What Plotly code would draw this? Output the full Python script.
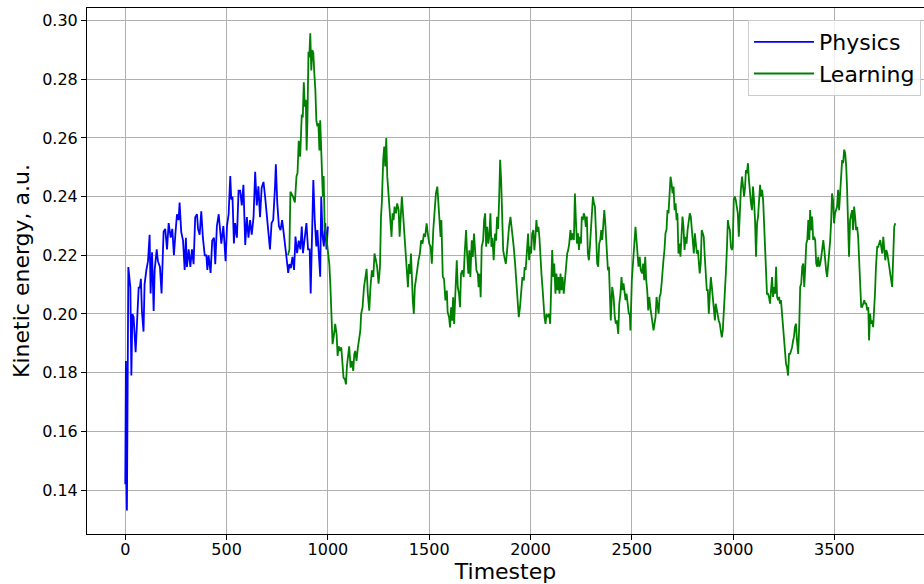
import plotly.graph_objects as go

# ---------------- data ----------------
physics_t = [0, 3, 5, 8, 15, 25, 30, 35, 41, 51,
             66, 72, 77, 82, 90, 95, 104, 112, 120, 125,
             132, 140, 145, 155, 161, 171, 179, 189, 197, 206,
             214, 224, 232, 240, 247, 255, 263, 268, 276, 285,
             293, 299, 304, 313, 321, 329, 337, 345, 354, 359,
             367, 375, 383, 392, 400, 405, 411, 421, 429, 438,
             444, 452, 461, 467, 474, 484, 490, 495, 502, 510,
             518, 523, 529, 536, 542, 551, 559, 567, 575, 583,
             592, 600, 608, 616, 624, 633, 641, 649, 657, 665,
             673, 682, 690, 698, 706, 714, 722, 730, 739, 743,
             750, 758, 766, 774, 782, 791, 797, 804, 810, 817,
             825, 833, 840, 848, 856, 864, 871, 877, 886, 894,
             902, 910, 915, 922, 928, 935, 943, 948, 954, 962,
             967, 974, 980, 987, 993, 1000]
physics_v = [0.142, 0.184, 0.145, 0.133, 0.216, 0.209, 0.179, 0.200, 0.199, 0.187,
             0.209, 0.209, 0.212, 0.201, 0.194, 0.210, 0.215, 0.218, 0.227, 0.207,
             0.221, 0.201, 0.215, 0.222, 0.218, 0.216, 0.207, 0.228, 0.229, 0.222,
             0.231, 0.226, 0.229, 0.220, 0.227, 0.234, 0.232, 0.238, 0.228, 0.225,
             0.215, 0.226, 0.216, 0.222, 0.216, 0.222, 0.217, 0.233, 0.234, 0.229,
             0.227, 0.235, 0.226, 0.220, 0.220, 0.215, 0.220, 0.214, 0.225, 0.226,
             0.217, 0.230, 0.234, 0.228, 0.224, 0.230, 0.222, 0.218, 0.230, 0.234,
             0.247, 0.239, 0.240, 0.224, 0.231, 0.226, 0.242, 0.242, 0.237, 0.244,
             0.2235, 0.233, 0.226, 0.232, 0.227, 0.233, 0.2485, 0.237, 0.2435, 0.233,
             0.243, 0.245, 0.240, 0.234, 0.230, 0.222, 0.231, 0.232, 0.2435, 0.251,
             0.238, 0.230, 0.2286, 0.232, 0.2275, 0.223, 0.2184, 0.214, 0.217, 0.2156,
             0.2195, 0.215, 0.2264, 0.2207, 0.225, 0.222, 0.2298, 0.2207, 0.2275, 0.231,
             0.222, 0.222, 0.207, 0.225, 0.2457, 0.232, 0.223, 0.2286, 0.222, 0.2127,
             0.240, 0.2264, 0.223, 0.231, 0.222, 0.2298]

learning_t_a = [803, 810, 815, 828, 837, 845, 850, 856, 863, 866,
                871, 876, 881, 886, 891, 895, 899, 904, 908, 913,
                918, 923, 928, 933, 938, 943, 948, 953, 958, 962,
                967, 975, 979, 984, 992, 1000, 1007, 1012, 1016, 1023,
                1030, 1036, 1043, 1048, 1053, 1059, 1066, 1072, 1077, 1084,
                1089, 1094, 1100, 1105, 1112, 1118, 1125, 1130, 1135, 1141,
                1148, 1155, 1160, 1164, 1171, 1178, 1184, 1191, 1197, 1204,
                1210, 1217, 1224, 1230, 1237, 1243, 1250, 1257, 1262, 1266,
                1273, 1278, 1283, 1288, 1293, 1298, 1303, 1309, 1314, 1319,
                1324, 1329, 1336, 1342, 1349, 1354, 1360, 1365, 1370, 1375,
                1380, 1385, 1390, 1395, 1400, 1405, 1410, 1415, 1419, 1424,
                1429, 1436, 1441, 1447, 1454, 1460, 1467, 1474, 1480, 1487,
                1493, 1500]
learning_v_a = [0.220, 0.222, 0.2417, 0.240, 0.238, 0.247, 0.248, 0.259, 0.2536, 0.2616,
                0.268, 0.267, 0.279, 0.2707, 0.273, 0.2557, 0.266, 0.2894, 0.2875, 0.2957,
                0.283, 0.290, 0.289, 0.282, 0.2764, 0.266, 0.264, 0.265, 0.2557, 0.266,
                0.2525, 0.240, 0.247, 0.2298, 0.2264, 0.2206, 0.217, 0.210, 0.2023, 0.1897,
                0.193, 0.1966, 0.193, 0.1857, 0.189, 0.1874, 0.1886, 0.1829, 0.1783, 0.1777,
                0.176, 0.1823, 0.1863, 0.189, 0.1817, 0.184, 0.1806, 0.1863, 0.1874, 0.184,
                0.1886, 0.1914, 0.1943, 0.200, 0.2023, 0.2091, 0.2126, 0.2154, 0.2069, 0.2011,
                0.2091, 0.2149, 0.2126, 0.2206, 0.2183, 0.216, 0.2103, 0.216, 0.2331, 0.2377,
                0.2526, 0.2571, 0.2503, 0.260, 0.2469, 0.2423, 0.2377, 0.232, 0.2263, 0.2343,
                0.232, 0.2366, 0.2343, 0.2377, 0.2354, 0.2263, 0.234, 0.240, 0.235, 0.2297,
                0.2217, 0.2183, 0.2149, 0.2091, 0.217, 0.2137, 0.2206, 0.2091, 0.2046, 0.200,
                0.2091, 0.2126, 0.216, 0.2183, 0.2206, 0.2251, 0.224, 0.2274, 0.2263, 0.2309,
                0.2274, 0.224]

learning_t_b = [1507, 1513, 1520, 1526, 1533, 1540, 1546, 1550, 1556, 1560,
                1563, 1567, 1573, 1580, 1587, 1591, 1598, 1603, 1608, 1613,
                1618, 1623, 1629, 1636, 1641, 1647, 1652, 1657, 1664, 1670,
                1675, 1682, 1687, 1693, 1698, 1703, 1710, 1715, 1721, 1726,
                1733, 1740, 1744, 1749, 1754, 1759, 1766, 1771, 1776, 1781,
                1786, 1792, 1797, 1802, 1807, 1812, 1818, 1825, 1830, 1835,
                1840, 1845, 1850, 1855, 1860, 1865, 1871, 1878, 1883, 1889,
                1894, 1901, 1906, 1911, 1917, 1924, 1930, 1937, 1942, 1948,
                1955, 1960, 1967, 1971, 1976, 1983, 1988, 1993, 1998, 2003,
                2008, 2014, 2019, 2024, 2029, 2034, 2039, 2044, 2049, 2054,
                2059, 2064, 2069, 2074, 2079, 2085, 2092, 2097]
learning_v_b = [0.2229, 0.2171, 0.2286, 0.2354, 0.2411, 0.2434, 0.2366, 0.232, 0.2263, 0.232,
                0.2229, 0.2126, 0.212, 0.2046, 0.208, 0.2006, 0.1989, 0.1954, 0.2023, 0.1977,
                0.2057, 0.1966, 0.2069, 0.2183, 0.2091, 0.2069, 0.2023, 0.2137, 0.2149, 0.2126,
                0.2206, 0.2286, 0.2206, 0.2137, 0.2217, 0.2126, 0.2251, 0.2194, 0.2274, 0.2229,
                0.2149, 0.2137, 0.2091, 0.2137, 0.2057, 0.2229, 0.2251, 0.232, 0.2343, 0.2229,
                0.2297, 0.224, 0.227, 0.2343, 0.2229, 0.226, 0.2183, 0.2274, 0.225, 0.2331,
                0.229, 0.2389, 0.2526, 0.2457, 0.232, 0.2217, 0.2194, 0.2171, 0.2206, 0.2274,
                0.2297, 0.2331, 0.2297, 0.2286, 0.2229, 0.2171, 0.2103, 0.2034, 0.1989, 0.2023,
                0.2091, 0.2126, 0.2114, 0.216, 0.215, 0.2206, 0.2274, 0.2183, 0.223, 0.2206,
                0.2274, 0.2286, 0.2217, 0.226, 0.232, 0.228, 0.2297, 0.226, 0.2183, 0.2137,
                0.2091, 0.2023, 0.1989, 0.1966, 0.200, 0.1989, 0.200, 0.1966]

learning_t_c = [2101, 2107, 2112, 2117, 2123, 2128, 2133, 2138, 2143, 2148,
                2153, 2158, 2164, 2169, 2174, 2181, 2186, 2191, 2197, 2202,
                2207, 2214, 2219, 2224, 2229, 2234, 2239, 2244, 2249, 2253,
                2258, 2263, 2268, 2273, 2278, 2283, 2288, 2293, 2298, 2303,
                2308, 2313, 2318, 2324, 2329, 2334, 2339, 2344, 2349, 2354,
                2359, 2364, 2369, 2375, 2382, 2387, 2392, 2396, 2403, 2410,
                2416, 2421, 2426, 2433, 2438, 2444, 2449, 2454, 2459, 2464,
                2469, 2474, 2480, 2485, 2490, 2493, 2500, 2505, 2511, 2518,
                2523, 2528, 2533, 2539, 2544, 2551, 2556, 2561, 2566, 2571,
                2576, 2581, 2586, 2591, 2597, 2602, 2607, 2612, 2617, 2622,
                2627, 2632, 2637, 2642, 2647, 2651, 2656, 2661, 2666, 2671,
                2676, 2681, 2686, 2691, 2696, 2701, 2706, 2711, 2716, 2721,
                2725, 2730, 2735, 2740, 2745, 2750, 2755, 2760, 2765, 2770,
                2775, 2781, 2786, 2791, 2796, 2801, 2806, 2811, 2816, 2821,
                2826, 2830, 2835, 2840, 2845, 2850, 2855, 2860, 2865, 2870,
                2875, 2880, 2885, 2890, 2895, 2900, 2905, 2910, 2914, 2919,
                2924, 2929, 2934, 2939, 2944, 2949, 2954, 2959, 2964, 2969,
                2974, 2979, 2984, 2989, 2994, 2998]
learning_v_c = [0.2104, 0.2218, 0.2126, 0.2172, 0.2069, 0.2138, 0.2081, 0.2126, 0.2069, 0.2138,
                0.2081, 0.2126, 0.2069, 0.2126, 0.2149, 0.2206, 0.2218, 0.224, 0.2286, 0.2252,
                0.2275, 0.2252, 0.2411, 0.232, 0.224, 0.2275, 0.2218, 0.2263, 0.224, 0.2332,
                0.232, 0.2343, 0.2332, 0.2297, 0.2332, 0.2206, 0.2183, 0.2229, 0.2297, 0.2354,
                0.240, 0.2377, 0.2366, 0.2263, 0.2172, 0.2161, 0.224, 0.2252, 0.2286, 0.2252,
                0.2332, 0.2354, 0.2309, 0.2229, 0.2149, 0.2161, 0.2047, 0.1978, 0.2092, 0.2058,
                0.1989, 0.1967, 0.1978, 0.1932, 0.2035, 0.2069, 0.2126, 0.2081, 0.2104, 0.2081,
                0.2047, 0.2069, 0.2035, 0.2001, 0.2001, 0.1944, 0.2115, 0.2172, 0.2252, 0.2297,
                0.2252, 0.2218, 0.2161, 0.2195, 0.2149, 0.2138, 0.2172, 0.2115, 0.2195, 0.2115,
                0.2081, 0.2012, 0.2058, 0.2024, 0.1989, 0.1955, 0.1944, 0.1967, 0.1989, 0.2058,
                0.2024, 0.2001, 0.2058, 0.2069, 0.2104, 0.2161, 0.2183, 0.2218, 0.2275, 0.2286,
                0.2354, 0.2343, 0.2389, 0.2468, 0.2446, 0.2411, 0.2434, 0.2354, 0.2377, 0.232,
                0.2343, 0.2206, 0.224, 0.2195, 0.2263, 0.2332, 0.2297, 0.2218, 0.2263, 0.224,
                0.2286, 0.232, 0.2343, 0.2332, 0.2297, 0.2252, 0.2206, 0.2275, 0.224, 0.2206,
                0.2218, 0.2161, 0.2138, 0.2172, 0.2286, 0.2275, 0.2263, 0.2195, 0.2149, 0.2081,
                0.2081, 0.2001, 0.2069, 0.2126, 0.2092, 0.2058, 0.2012, 0.1978, 0.2035, 0.2012,
                0.1989, 0.1978, 0.1967, 0.1932, 0.192, 0.1944, 0.2001, 0.2081, 0.2138, 0.2218,
                0.232, 0.2297, 0.2286, 0.2229, 0.2218, 0.2229]

learning_t_d = [3003, 3008, 3013, 3018, 3023, 3028, 3033, 3038, 3044, 3049,
                3054, 3059, 3063, 3068, 3073, 3078, 3083, 3088, 3093, 3098,
                3103, 3108, 3113, 3118, 3123, 3128, 3133, 3138, 3143, 3148,
                3152, 3157, 3162, 3167, 3172, 3177, 3182, 3187, 3192, 3197,
                3202, 3207, 3212, 3217, 3222, 3227, 3231, 3236, 3241, 3246,
                3251, 3256, 3261, 3266, 3271, 3276, 3281, 3286, 3291, 3296,
                3300, 3305, 3310, 3315, 3321, 3326, 3331, 3336, 3341, 3346,
                3351, 3356, 3361, 3366, 3371, 3376, 3380, 3385, 3390, 3395,
                3400, 3405, 3410, 3415, 3420, 3425, 3430, 3435, 3440, 3445,
                3450, 3454, 3459, 3464, 3469, 3474, 3479, 3484, 3488, 3493,
                3498, 3503, 3508, 3513, 3518, 3523, 3528, 3533, 3538, 3543,
                3548, 3553, 3558, 3562, 3567, 3572, 3577, 3582, 3587, 3592,
                3597, 3602, 3607, 3612, 3617, 3622, 3627, 3632, 3637, 3642,
                3647, 3652, 3657, 3662, 3667, 3671, 3676, 3681, 3686, 3691,
                3696, 3700, 3705, 3711, 3716, 3721, 3726, 3731, 3736, 3741,
                3746, 3751, 3756, 3761, 3766, 3771, 3776, 3780, 3785, 3790,
                3795, 3800]
learning_v_d = [0.2389, 0.240, 0.2389, 0.2366, 0.2343, 0.2263, 0.2354, 0.2423, 0.2468, 0.2423,
                0.240, 0.2434, 0.2491, 0.248, 0.2514, 0.2457, 0.2411, 0.2377, 0.2354, 0.2434,
                0.2389, 0.232, 0.2195, 0.2309, 0.2332, 0.2389, 0.244, 0.240, 0.2423, 0.2389,
                0.2332, 0.2263, 0.2172, 0.2069, 0.2069, 0.2058, 0.2035, 0.2081, 0.2126, 0.2058,
                0.2092, 0.2069, 0.2161, 0.2058, 0.2047, 0.2058, 0.2035, 0.2047, 0.2001, 0.1955,
                0.1932, 0.1864, 0.183, 0.1818, 0.179, 0.1864, 0.1864, 0.1875, 0.1887, 0.191,
                0.1921, 0.1955, 0.1967, 0.191, 0.1864, 0.1955, 0.2092, 0.2104, 0.2161, 0.2172,
                0.2092, 0.2161, 0.224, 0.2252, 0.232, 0.2252, 0.2354, 0.2286, 0.2332, 0.2252,
                0.2263, 0.2252, 0.2172, 0.2161, 0.2195, 0.2161, 0.2172, 0.2195, 0.2229, 0.2252,
                0.2218, 0.2172, 0.2149, 0.2126, 0.2161, 0.2195, 0.2252, 0.232, 0.2411, 0.2389,
                0.2309, 0.2343, 0.2354, 0.2366, 0.2423, 0.2354, 0.2411, 0.2468, 0.2525, 0.2514,
                0.256, 0.2548, 0.2503, 0.2434, 0.232, 0.2195, 0.232, 0.2343, 0.2354, 0.2286,
                0.2366, 0.2332, 0.2286, 0.2297, 0.2263, 0.2183, 0.2081, 0.2024, 0.2024, 0.2035,
                0.2047, 0.2035, 0.2035, 0.2012, 0.2024, 0.191, 0.2001, 0.1967, 0.1978, 0.1955,
                0.2001, 0.2069, 0.2161, 0.2229, 0.2229, 0.224, 0.2252, 0.2229, 0.2206, 0.2263,
                0.2218, 0.2183, 0.2218, 0.2206, 0.2183, 0.2161, 0.2149, 0.2115, 0.2092, 0.224,
                0.2297, 0.2309]

x_ticks = [0, 500, 1000, 1500, 2000, 2500, 3000, 3500]
y_ticks = [0.14, 0.16, 0.18, 0.20, 0.22, 0.24, 0.26, 0.28, 0.30]

learning_t = learning_t_a + learning_t_b + learning_t_c + learning_t_d
learning_v = learning_v_a + learning_v_b + learning_v_c + learning_v_d
assert len(physics_t) == len(physics_v)
assert len(learning_t) == len(learning_v)

# ---------------- figure ----------------
FONT = "DejaVu Sans, Verdana, sans-serif"

fig = go.Figure()
fig.add_trace(go.Scatter(x=physics_t, y=physics_v, mode="lines", name="Physics",
                         line=dict(color="#0000ff", width=1.8)))
fig.add_trace(go.Scatter(x=learning_t, y=learning_v, mode="lines", name="Learning",
                         line=dict(color="#008000", width=1.8)))

axis_common = dict(
    showgrid=True, gridcolor="#b0b0b0", gridwidth=1,
    zeroline=False, showline=True, linecolor="black", linewidth=1,
    ticks="outside", ticklen=5, tickwidth=1, tickcolor="black",
    tickfont=dict(family=FONT, size=16, color="black"),
)

fig.update_layout(
    width=924, height=584,
    margin=dict(l=87, r=0, t=8, b=50),
    paper_bgcolor="white", plot_bgcolor="white",
    font=dict(family=FONT, color="black"),
    showlegend=True,
    hovermode=False,
    legend=dict(
        x=0.9964, xanchor="right", y=0.977, yanchor="top",
        font=dict(family=FONT, size=22, color="black"),
        bordercolor="#cccccc", borderwidth=1,
        bgcolor="rgba(255,255,255,0.8)",
        itemwidth=60, tracegroupgap=0,
    ),
    xaxis=dict(
        range=[-189, 3942], tickvals=x_ticks, mirror=True,
        ticklabelstandoff=-4, automargin=False,
        title=dict(text="Timestep", font=dict(family=FONT, size=22), standoff=8),
        **axis_common,
    ),
    yaxis=dict(
        range=[0.1250, 0.3043], tickvals=y_ticks, tickformat=".2f", mirror=False,
        automargin=False,
        title=dict(text="Kinetic energy, a.u.", font=dict(family=FONT, size=22), standoff=6),
        **axis_common,
    ),
)

fig.write_html(
    "out.html",
    config={"displayModeBar": False, "staticPlot": True},
    post_script="document.body.style.margin='0';document.body.style.padding='0';",
)
